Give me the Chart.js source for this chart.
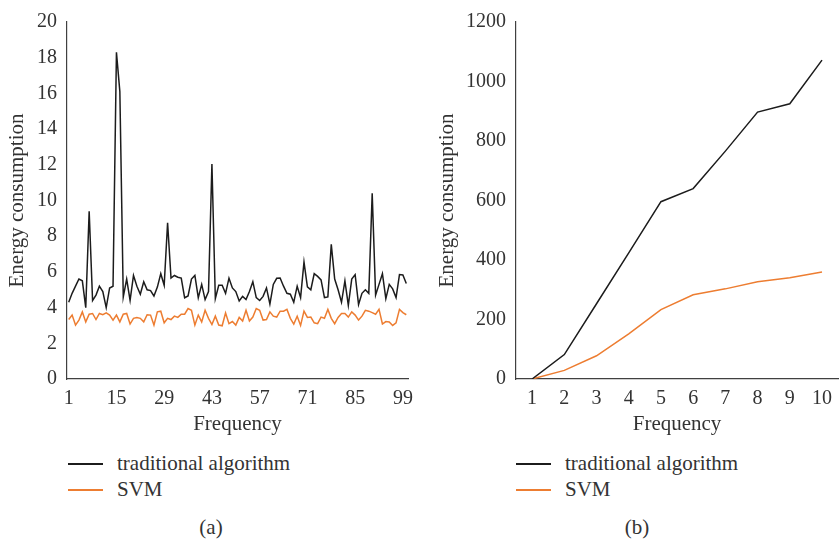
<!DOCTYPE html>
<html>
<head>
<meta charset="utf-8">
<script src="https://cdn.jsdelivr.net/npm/chart.js@4/dist/chart.umd.min.js"></script>
<style>
    body { margin: 0; background: #fff; width: 840px; height: 544px; position: relative; overflow: hidden; font-family: "Liberation Serif", "DejaVu Serif", serif; color: #333; }
    canvas { position: absolute; top: 0; }
    .leg { position: absolute; font-size: 21px; line-height: 24px; white-space: nowrap; }
    .leg span.ln { position: absolute; top: 12px; height: 1.5px; width: 35px; }
    .cap { position: absolute; font-size: 21px; transform: translate(-50%, -50%); }
</style>
</head>
<body>
<canvas id="chartA" width="420" height="440" style="left:0"></canvas>
<canvas id="chartB" width="420" height="440" style="left:420px"></canvas>
<div id="legA"></div>
<div id="legB"></div>
<div class="cap" style="left:211px;top:527px">(a)</div>
<div class="cap" style="left:637px;top:527px">(b)</div>

<script>
//================================ data =================================
var seriesNames = ['traditional algorithm', 'SVM'];
var seriesColors = ['#1c1c1c', '#ED7D31'];

// (a) 100 runs
var tradA = [4.3, 4.8, 5.2, 5.6, 5.5, 4.0, 9.4, 4.4, 4.7, 5.2,
    4.9, 4.0, 5.1, 5.2, 18.3, 16.1, 4.6, 5.6, 4.4, 5.8,
    5.2, 4.75, 5.45, 5.0, 4.95, 4.65, 5.15, 5.9, 5.25, 8.75,
    5.65, 5.8, 5.7, 5.65, 4.55, 4.65, 5.6, 5.8, 4.55, 5.3,
    4.45, 4.9, 12.05, 4.5, 5.25, 5.25, 4.8, 5.65, 5.1, 4.9,
    4.37, 4.63, 4.45, 4.9, 5.45, 4.56, 4.4, 4.63, 5.1, 4.2,
    5.3, 5.64, 5.66, 5.2, 4.8, 4.75, 4.3, 5.2, 4.56, 6.55,
    5.16, 5.0, 5.9, 5.75, 5.55, 4.56, 4.6, 7.54, 5.6, 5.0,
    4.3, 5.5, 4.12, 5.6, 5.85, 4.17, 4.8, 5.0, 4.8, 10.4,
    4.7, 5.3, 5.9, 4.5, 5.3, 5.05, 4.56, 5.85, 5.83, 5.35];
var svmA = [3.33, 3.58, 3.02, 3.3, 3.76, 3.2, 3.63, 3.67, 3.33, 3.67,
    3.6, 3.7, 3.58, 3.3, 3.58, 3.2, 3.63, 3.67, 3.08, 3.4,
    3.45, 3.4, 3.2, 3.6, 3.58, 3.02, 3.76, 3.8, 3.15, 3.4,
    3.33, 3.52, 3.45, 3.63, 3.63, 3.95, 3.85, 3.02, 3.58, 3.2,
    3.85, 3.4, 3.05, 3.52, 3.02, 2.98, 3.7, 3.1, 3.22, 3.02,
    3.45, 3.25, 3.85, 3.25, 3.47, 3.95, 3.85, 3.3, 3.33, 3.76,
    3.52, 3.47, 3.8, 3.8, 3.9, 3.4, 3.08, 3.52, 3.0, 3.8,
    3.45, 3.47, 3.15, 3.1, 3.47, 3.4, 3.9, 3.4, 3.1, 3.45,
    3.67, 3.67, 3.47, 3.76, 3.58, 3.3, 3.52, 3.85, 3.8, 3.72,
    3.63, 3.9, 3.08, 3.22, 3.2, 3.0, 3.15, 3.9, 3.72, 3.6];
var shownTicksA = ['1', '15', '29', '43', '57', '71', '85', '99'];

// (b) cumulative, 10 runs
var labelsB = ['1', '2', '3', '4', '5', '6', '7', '8', '9', '10'];
var tradB = [0, 82, 253, 424, 596, 640, 766, 897, 925, 1072];
var svmB = [0, 29, 78, 152, 233, 283, 303, 327, 340, 360];

var labelsA = [];
for (var i = 1; i <= tradA.length; i++) labelsA.push(String(i));

//================================ helpers ==============================
var tickFont = { family: '"Liberation Serif", serif', size: 20 };
var titleFont = { family: '"Liberation Serif", serif', size: 21 };
var txt = '#333';

function makeChart(id, labels, dataSets, yMax, yStep, yWidth, yTitlePad, padLeft, padRight, padTop, tickFilter) {
    return new Chart(document.getElementById(id).getContext('2d'), {
        type: 'line',
        data: {
            labels: labels,
            datasets: dataSets.map(function(d, k) {
                return {
                    label: seriesNames[k],
                    data: d,
                    borderColor: seriesColors[k],
                    backgroundColor: seriesColors[k],
                    borderWidth: 1.5,
                    pointRadius: 0,
                    tension: 0,
                    fill: false
                };
            })
        },
        options: {
            responsive: false,
            animation: false,
            layout: { padding: { left: padLeft, right: padRight, top: padTop, bottom: 0 } },
            plugins: { legend: { display: false }, tooltip: { enabled: false } },
            scales: {
                x: {
                    offset: true,
                    grid: { display: false, drawTicks: false },
                    border: { display: true, color: '#404040', width: 1.2 },
                    ticks: {
                        autoSkip: false, maxRotation: 0, padding: 8,
                        color: txt, font: tickFont,
                        callback: function(v, idx) {
                            var l = this.getLabelForValue(v);
                            return (!tickFilter || tickFilter.indexOf(l) >= 0) ? l : '';
                        }
                    },
                    title: { display: true, text: 'Frequency', color: txt, font: titleFont, padding: { top: 0, bottom: 3 } },
                    afterFit: function(s) { s.height = 61; }
                },
                y: {
                    min: 0, max: yMax,
                    grid: { display: false, drawTicks: false },
                    border: { display: true, color: '#404040', width: 1.2 },
                    ticks: {
                        stepSize: yStep, padding: 10, color: txt, font: tickFont,
                        callback: function(v) { return String(v); }
                    },
                    title: { display: true, text: 'Energy consumption', color: txt, font: titleFont, padding: { top: yTitlePad, bottom: 0 } },
                    afterFit: function(s) { s.width = yWidth; }
                }
            }
        }
    });
}

function makeLegend(id, left) {
    var box = document.getElementById(id);
    seriesNames.forEach(function(n, k) {
        var d = document.createElement('div');
        d.className = 'leg';
        d.style.left = left + 'px';
        d.style.top = (451 + k * 26) + 'px';
        d.innerHTML = '<span class="ln" style="left:0;background:' + seriesColors[k] + '"></span>' +
            '<span style="margin-left:49px">' + n + '</span>';
        box.appendChild(d);
    });
}

var chartA = makeChart('chartA', labelsA, [tradA, svmA], 20, 2, 67, 5, 0, 12, 21, shownTicksA);
var chartB = makeChart('chartB', labelsB, [tradB, svmB], 1200, 200, 86, 5, 10, 0, 22, null);

makeLegend('legA', 68);
makeLegend('legB', 516);
</script>
</body>
</html>
